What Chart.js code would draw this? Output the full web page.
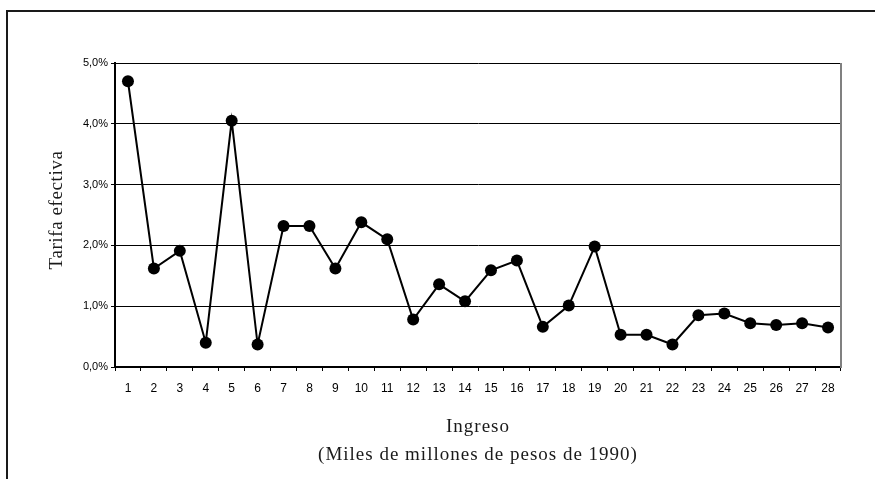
<!DOCTYPE html>
<html>
<head>
<meta charset="utf-8">
<script src="https://cdn.jsdelivr.net/npm/chart.js@4.4.1/dist/chart.umd.min.js"></script>
<style>
  html, body { margin: 0; padding: 0; background: #fff; overflow: hidden; }
  #frame { position: absolute; left: 6px; top: 10px; width: 900px; height: 500px;
           border-top: 2px solid #1a1a1a; border-left: 2px solid #1a1a1a; }
  #chart { position: absolute; left: 0; top: 0; }
</style>
</head>
<body>
<div id="frame"></div>
<canvas id="chart" width="875" height="479"></canvas>
<script>
// ingreso (categorias) y tarifa efectiva en %
const ingreso = ['1','2','3','4','5','6','7','8','9','10','11','12','13','14',
                 '15','16','17','18','19','20','21','22','23','24','25','26','27','28'];
const tarifa = [4.70, 1.62, 1.91, 0.40, 4.05, 0.37, 2.32, 2.32, 1.62, 2.38, 2.10, 0.78, 1.36, 1.08,
                1.59, 1.75, 0.66, 1.01, 1.98, 0.53, 0.53, 0.37, 0.85, 0.88, 0.72, 0.69, 0.72, 0.65];
const yTicks = [0, 1, 2, 3, 4, 5];
const yTitle = 'Tarifa efectiva';
const xTitle = ['Ingreso', '(Miles de millones de pesos de 1990)'];

const sansFont = "'Liberation Sans', Arial, sans-serif";
const serifFont = "'Liberation Serif', 'Times New Roman', serif";

// borde derecho gris del area del grafico + titulos de ejes
const extras = {
    id: 'extras',
    afterDraw(chart) {
        const { ctx, chartArea: { left, right, top, bottom } } = chart;
        ctx.save();
        ctx.strokeStyle = '#808080';
        ctx.lineWidth = 2;
        ctx.beginPath();
        ctx.moveTo(right, top);
        ctx.lineTo(right, bottom + 1);
        ctx.stroke();

        ctx.fillStyle = '#1a1a1a';
        ctx.font = '19px ' + serifFont;
        ctx.textAlign = 'center';
        ctx.textBaseline = 'alphabetic';
        ctx.letterSpacing = '1px';
        const cx = (left + right) / 2;
        ctx.fillText(xTitle[0], cx, 432);
        ctx.fillText(xTitle[1], cx, 460);

        ctx.letterSpacing = '0.6px';
        ctx.translate(62, 210);
        ctx.rotate(-Math.PI / 2);
        ctx.fillText(yTitle, 0, 0);
        ctx.restore();
    }
};

new Chart(document.getElementById('chart'), {
    type: 'line',
    data: {
        labels: ingreso,
        datasets: [{
            data: tarifa,
            borderColor: '#000',
            borderWidth: 2,
            backgroundColor: '#000',
            pointBackgroundColor: '#000',
            pointBorderWidth: 0,
            pointRadius: 6,
            tension: 0
        }]
    },
    options: {
        responsive: false,
        animation: false,
        devicePixelRatio: 1,
        layout: { padding: { left: 0, top: 63, right: 34, bottom: 0 } },
        plugins: { legend: { display: false }, tooltip: { enabled: false } },
        scales: {
            x: {
                offset: true,
                afterFit(scale) { scale.height = 112; },
                grid: { drawOnChartArea: false, offset: true, tickLength: 4, color: '#000' },
                border: { color: '#000', width: 2 },
                ticks: { color: '#000', padding: 10, maxRotation: 0, autoSkip: false,
                         font: { family: sansFont, size: 12 } }
            },
            y: {
                min: 0,
                max: 5,
                afterFit(scale) { scale.width = 115; },
                afterBuildTicks(scale) { scale.ticks = yTicks.map(v => ({ value: v })); },
                grid: { color: '#000', lineWidth: 1, tickLength: 4 },
                border: { color: '#000', width: 2 },
                ticks: {
                    color: '#000',
                    padding: 3,
                    font: { family: sansFont, size: 11 },
                    callback: v => v.toFixed(1).replace('.', ',') + '%'
                }
            }
        }
    },
    plugins: [extras]
});
</script>
</body>
</html>
